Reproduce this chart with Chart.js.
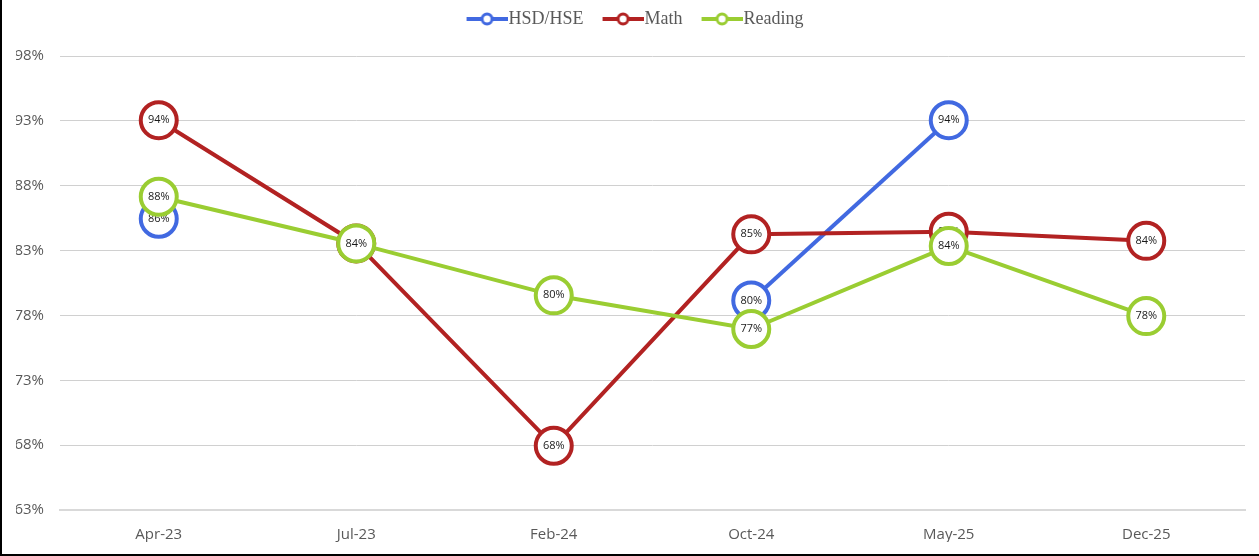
<!DOCTYPE html>
<html>
<head>
<meta charset="utf-8">
<script src="https://cdn.jsdelivr.net/npm/chart.js@4.4.1/dist/chart.umd.min.js"></script>
<style>
    body { margin: 0; background: #fff; }
    #wrap {
        position: relative;
        width: 1259px;
        height: 556px;
        box-sizing: border-box;
        border-left: 2px solid #000;
        border-bottom: 2px solid #000;
    }
</style>
</head>
<body>
<div id="wrap"><canvas id="scoreChart"></canvas></div>
<script>
// Data
const periods = ['Apr-23', 'Jul-23', 'Feb-24', 'Oct-24', 'May-25', 'Dec-25'];
const hsdValues = [85.9, null, null, 79.6, 93.5, null];
const mathValues = [93.5, 84.0, 68.4, 84.7, 84.9, 84.2];
const readingValues = [87.6, 84.0, 80.0, 77.4, 83.8, 78.4];
const axisMin = 63.45;
const axisMax = 98.45;
const axisStep = 5;

const colors = {
    hsd: '#4169E1',
    math: '#B22222',
    reading: '#9ACD32'
};

// legend icon: line with open circle
function legendIcon(color) {
    const c = document.createElement('canvas');
    c.width = 58;
    c.height = 16;
    const ctx = c.getContext('2d');
    ctx.strokeStyle = color;
    ctx.lineWidth = 4;
    ctx.beginPath();
    ctx.moveTo(17, 8);
    ctx.lineTo(58, 8);
    ctx.stroke();
    ctx.beginPath();
    ctx.arc(37.5, 8, 5, 0, Math.PI * 2);
    ctx.fillStyle = '#fff';
    ctx.fill();
    ctx.lineWidth = 3;
    ctx.stroke();
    return c;
}

// value labels drawn in the middle of each marker
const valueLabels = {
    id: 'valueLabels',
    afterDatasetDraw(chart, args) {
        const ctx = chart.ctx;
        const data = chart.data.datasets[args.index].data;
        ctx.save();
        ctx.font = '11px "Open Sans"';
        ctx.fillStyle = '#1a1a1a';
        ctx.textAlign = 'center';
        ctx.textBaseline = 'middle';
        args.meta.data.forEach((pt, i) => {
            if (data[i] === null) return;
            ctx.fillText(Math.round(data[i]) + '%', pt.x, pt.y);
        });
        ctx.restore();
    }
};

// extra room under the legend
const legendGap = {
    id: 'legendGap',
    beforeInit(chart) {
        const fit = chart.legend.fit;
        chart.legend.fit = function () {
            fit.call(this);
            this.height += 18;
        };
    }
};

function series(label, values, color, order) {
    return {
        label: label,
        data: values,
        borderColor: color,
        backgroundColor: color,
        borderWidth: 4,
        pointRadius: 18,
        pointHoverRadius: 18,
        pointBorderWidth: 4,
        pointHoverBorderWidth: 4,
        pointBackgroundColor: '#fff',
        pointHoverBackgroundColor: '#fff',
        pointBorderColor: color,
        tension: 0,
        spanGaps: false,
        order: order
    };
}

const ctx = document.getElementById('scoreChart').getContext('2d');
new Chart(ctx, {
    type: 'line',
    data: {
        labels: periods,
        datasets: [
            series('HSD/HSE', hsdValues, colors.hsd, 2),
            series('Math', mathValues, colors.math, 1),
            series('Reading', readingValues, colors.reading, 0)
        ]
    },
    options: {
        responsive: true,
        maintainAspectRatio: false,
        animation: false,
        layout: {
            autoPadding: false,
            padding: { left: 14, right: 14, top: 0, bottom: 12 }
        },
        plugins: {
            tooltip: { enabled: false },
            legend: {
                position: 'top',
                labels: {
                    usePointStyle: true,
                    pointStyleWidth: 42,
                    padding: 10,
                    color: '#595959',
                    font: { family: '"Liberation Serif", "Times New Roman", serif', size: 18 },
                    generateLabels(chart) {
                        return chart.data.datasets.map((ds, i) => ({
                            text: ds.label,
                            pointStyle: legendIcon(ds.borderColor),
                            fillStyle: ds.borderColor,
                            strokeStyle: ds.borderColor,
                            fontColor: '#595959',
                            lineWidth: 0,
                            hidden: false,
                            datasetIndex: i
                        }));
                    }
                }
            }
        },
        scales: {
            x: {
                offset: true,
                grid: { display: false, offset: true },
                border: { display: true, color: '#D9D9D9', width: 2 },
                ticks: {
                    color: '#595959',
                    padding: 8,
                    font: { family: '"Open Sans"', size: 15 }
                },
                afterFit(scale) { scale.height = 32; }
            },
            y: {
                min: axisMin,
                max: axisMax,
                border: { display: false },
                grid: { color: '#D0D0D0', lineWidth: 1, drawTicks: false },
                ticks: {
                    stepSize: axisStep,
                    color: '#595959',
                    padding: 16,
                    font: { family: '"Open Sans"', size: 15 },
                    callback: (v) => Math.round(v) + '%'
                },
                afterFit(scale) { scale.width = 44; }
            }
        }
    },
    plugins: [valueLabels, legendGap]
});
</script>
</body>
</html>
